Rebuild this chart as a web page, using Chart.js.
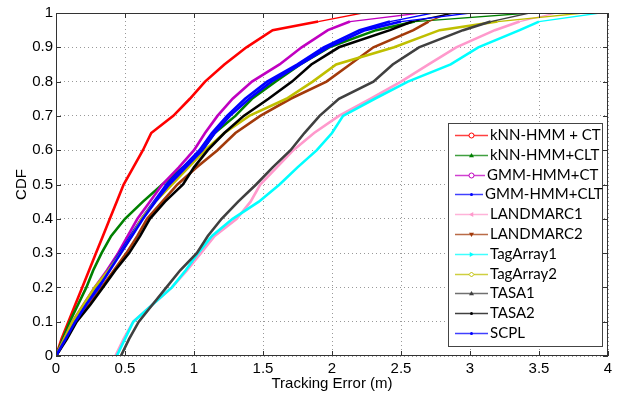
<!DOCTYPE html>
<html><head><meta charset="utf-8">
<script src="https://cdn.jsdelivr.net/npm/chart.js@4.4.0/dist/chart.umd.min.js"></script>
<style>html,body{margin:0;padding:0;background:#fff;}#wrap{width:630px;height:396px;}</style>
</head><body><div id="wrap"><canvas id="c" width="630" height="396"></canvas></div>
<script>
// CDF levels (y) shared by all series; each series gives the tracking error (m) reached at that level
const cdfLevels = [0,0.05,0.1,0.15,0.2,0.25,0.3,0.35,0.4,0.45,0.5,0.55,0.6,0.65,0.7,0.75,0.8,0.85,0.9,0.95,0.975,1];
const seriesNames = ['kNN-HMM + CT','kNN-HMM+CLT','GMM-HMM+CT','GMM-HMM+CLT','LANDMARC1','LANDMARC2','TagArray1','TagArray2','TASA1','TASA2','SCPL'];
const knnHmmCt   = [0,0.04,0.09,0.14,0.19,0.24,0.29,0.34,0.39,0.44,0.49,0.56,0.63,0.69,0.85,0.97,1.08,1.22,1.38,1.57,1.90,2.22];
const knnHmmClt  = [0,0.05,0.10,0.16,0.22,0.27,0.33,0.40,0.50,0.63,0.77,0.92,1.06,1.15,1.30,1.42,1.59,1.77,1.98,2.32,2.60,3.43];
const gmmHmmCt   = [0,0.06,0.12,0.20,0.28,0.37,0.45,0.52,0.59,0.68,0.77,0.89,1.00,1.08,1.17,1.28,1.42,1.62,1.78,1.97,2.13,2.64];
const gmmHmmClt  = [0,0.07,0.13,0.21,0.30,0.38,0.46,0.54,0.62,0.71,0.80,0.92,1.04,1.13,1.24,1.37,1.53,1.75,1.94,2.20,2.42,2.73];
const landmarc1  = [0.43,0.49,0.56,0.70,0.84,0.95,1.05,1.15,1.31,1.41,1.48,1.60,1.72,1.87,2.05,2.28,2.50,2.70,2.90,3.18,3.36,3.62];
const landmarc2  = [0,0.07,0.14,0.24,0.33,0.42,0.51,0.59,0.66,0.77,0.88,1.02,1.17,1.30,1.48,1.70,1.96,2.13,2.30,2.59,2.70,2.85];
const tagArray1  = [0.44,0.50,0.56,0.70,0.84,0.94,1.03,1.13,1.28,1.47,1.62,1.75,1.89,2.00,2.08,2.31,2.55,2.86,3.06,3.36,3.50,3.94];
const tagArray2  = [0,0.06,0.12,0.20,0.28,0.38,0.47,0.55,0.62,0.72,0.84,0.96,1.08,1.22,1.40,1.67,1.86,2.03,2.45,2.78,3.20,3.82];
const tasa1      = [0.47,0.53,0.60,0.70,0.80,0.90,1.02,1.10,1.20,1.32,1.45,1.57,1.70,1.80,1.91,2.05,2.30,2.44,2.63,2.95,3.15,3.43];
const tasa2      = [0,0.08,0.15,0.25,0.34,0.43,0.53,0.61,0.68,0.79,0.92,1.00,1.10,1.22,1.36,1.54,1.71,1.85,2.05,2.42,2.58,2.88];
const scpl       = [0,0.07,0.14,0.22,0.31,0.39,0.47,0.55,0.63,0.72,0.82,0.94,1.06,1.15,1.26,1.40,1.56,1.77,1.97,2.24,2.50,3.00];
const xTicks = [0,0.5,1,1.5,2,2.5,3,3.5,4];
const yTicks = [0,0.1,0.2,0.3,0.4,0.5,0.6,0.7,0.8,0.9,1];

const allSeries = [knnHmmCt,knnHmmClt,gmmHmmCt,gmmHmmClt,landmarc1,landmarc2,tagArray1,tagArray2,tasa1,tasa2,scpl];
const colors  = ['#ff0000','#008000','#c000c0','#0000ff','#ff99cc','#a33a0a','#00ffff','#bfbf00','#404040','#000000','#0000ff'];
const markers = ['circle','triangle','circle','dot','left','down','right','diamond','triangle','dot','dot'];
const legendTextX = [490,490,487,485,490,490,490,490,490,490,490];

const datasets = allSeries.map((arr,i)=>({
  label: seriesNames[i],
  data: cdfLevels.map((lv,k)=>({x: arr[k], y: lv})),
  borderColor: colors[i], backgroundColor: colors[i],
  borderWidth: 2.6, pointRadius: 0, showLine: true, tension: 0,
  segment: { borderWidth: ctx => (ctx.p0.parsed.y >= 0.975 ? 1.3 : undefined) },
  order: allSeries.length - i, marker: markers[i]
}));

function drawMarker(ctx, type, x, y, color){
  ctx.save(); ctx.strokeStyle = color; ctx.fillStyle = color; ctx.lineWidth = 1;
  const s = 2.5;
  ctx.beginPath();
  if (type === 'circle') { ctx.arc(x,y,s,0,Math.PI*2); ctx.fillStyle='#fff'; ctx.fill(); ctx.stroke(); }
  else if (type === 'dot') { ctx.arc(x,y,1.5,0,Math.PI*2); ctx.fill(); }
  else if (type === 'triangle') { ctx.moveTo(x,y-s); ctx.lineTo(x+s,y+s*0.7); ctx.lineTo(x-s,y+s*0.7); ctx.closePath(); ctx.fill(); }
  else if (type === 'down') { ctx.moveTo(x,y+s); ctx.lineTo(x+s,y-s*0.7); ctx.lineTo(x-s,y-s*0.7); ctx.closePath(); ctx.fill(); }
  else if (type === 'left') { ctx.moveTo(x-s,y); ctx.lineTo(x+s*0.7,y-s); ctx.lineTo(x+s*0.7,y+s); ctx.closePath(); ctx.fill(); }
  else if (type === 'right') { ctx.moveTo(x+s,y); ctx.lineTo(x-s*0.7,y-s); ctx.lineTo(x-s*0.7,y+s); ctx.closePath(); ctx.fill(); }
  else if (type === 'diamond') { ctx.moveTo(x,y-s); ctx.lineTo(x+s,y); ctx.lineTo(x,y+s); ctx.lineTo(x-s,y); ctx.closePath(); ctx.fillStyle='#fff'; ctx.fill(); ctx.stroke(); }
  ctx.restore();
}

const framePlugin = {
  id: 'frameAndLegend',
  afterDraw(chart){
    const {ctx, chartArea: a, scales} = chart;
    ctx.save();
    ctx.strokeStyle = '#333'; ctx.lineWidth = 1;
    ctx.strokeRect(Math.round(a.left)+0.5, Math.round(a.top)+0.5, Math.round(a.right-a.left)-1, Math.round(a.bottom-a.top)-1);
    const tl = 5;
    ctx.beginPath();
    xTicks.forEach(v=>{ const p = Math.round(scales.x.getPixelForValue(v))+0.5;
      ctx.moveTo(p,a.bottom); ctx.lineTo(p,a.bottom-tl); ctx.moveTo(p,a.top); ctx.lineTo(p,a.top+tl); });
    yTicks.forEach(v=>{ const p = Math.round(scales.y.getPixelForValue(v))+0.5;
      ctx.moveTo(a.left,p); ctx.lineTo(a.left+tl,p); ctx.moveTo(a.right,p); ctx.lineTo(a.right-tl,p); });
    ctx.stroke();
    // legend box
    const bx = 448, by = 123, bw = 154, bh = 223;
    ctx.fillStyle = '#fff'; ctx.fillRect(bx,by,bw,bh);
    ctx.strokeStyle = '#444'; ctx.strokeRect(bx+0.5,by+0.5,bw,bh);
    ctx.font = '15px Lato, "Open Sans", sans-serif';
    ctx.textBaseline = 'middle'; ctx.textAlign = 'left';
    chart.data.datasets.forEach((ds,i)=>{
      const cy = Math.round(135 + i*19.8) + 0.5;
      const tx = legendTextX[i];
      ctx.save(); ctx.globalAlpha = 0.75; ctx.strokeStyle = ds.borderColor; ctx.lineWidth = 1.5;
      ctx.beginPath(); ctx.moveTo(455,cy); ctx.lineTo(tx-2,cy); ctx.stroke(); ctx.restore();
      drawMarker(ctx, ds.marker, 471.5, cy, ds.borderColor);
      ctx.fillStyle = '#000';
      ctx.fillText(ds.label, tx, cy);
    });
    ctx.restore();
  }
};

new Chart(document.getElementById('c'), {
  type: 'scatter',
  data: { datasets },
  plugins: [framePlugin],
  options: {
    responsive: false, animation: false, devicePixelRatio: 1,
    layout: { padding: { left: 0, right: 22, top: 13, bottom: 0 } },
    plugins: { legend: { display: false }, tooltip: { enabled: false } },
    scales: {
      x: {
        type: 'linear', min: 0, max: 4,
        afterBuildTicks: s => { s.ticks = xTicks.map(v=>({value:v})); },
        afterFit: s => { s.height = 40; },
        ticks: { callback: v => String(v), color: '#000', padding: 4, maxRotation: 0,
                 font: { family: '"Liberation Sans", Arial, sans-serif', size: 15 } },
        grid: { color: '#999', drawTicks: false, lineWidth: 1 },
        border: { display: false, dash: [1,3] },
        title: { display: true, text: 'Tracking Error (m)', color: '#000', padding: { top: 0, bottom: 3 },
                 font: { family: '"Liberation Sans", Arial, sans-serif', size: 15 } }
      },
      y: {
        type: 'linear', min: 0, max: 1,
        afterBuildTicks: s => { s.ticks = yTicks.map(v=>({value:v})); },
        afterFit: s => { s.width = 56; },
        ticks: { callback: v => String(v), color: '#000', padding: 3,
                 font: { family: '"Liberation Sans", Arial, sans-serif', size: 15 } },
        grid: { color: '#999', drawTicks: false, lineWidth: 1 },
        border: { display: false, dash: [1,3] },
        title: { display: true, text: 'CDF', color: '#000', padding: { top: 13, bottom: 0 },
                 font: { family: '"Liberation Sans", Arial, sans-serif', size: 15 } }
      }
    }
  }
});
</script></body></html>
